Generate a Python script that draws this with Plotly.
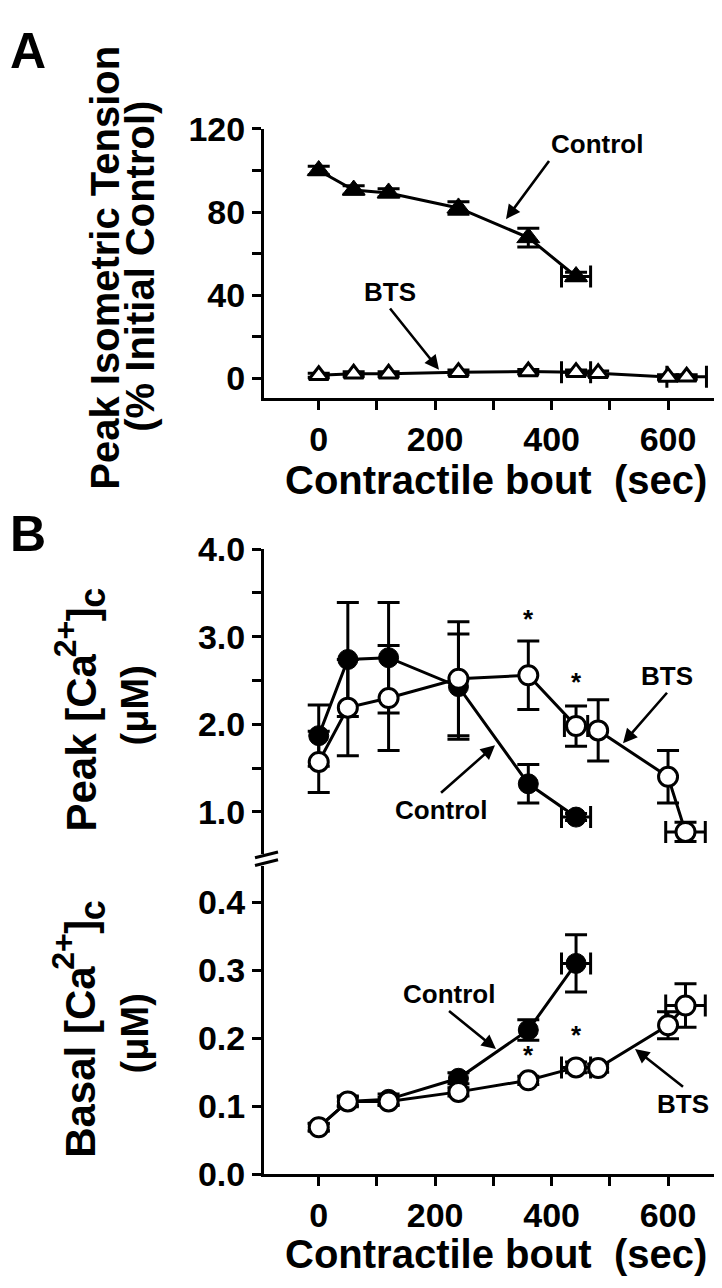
import plotly.graph_objects as go

W, H = 722, 1288
FONT = "Liberation Sans, Arial, sans-serif"

# ---------------- Data ----------------
# Panel A: peak isometric tension (% initial control)
a_ctrl_x = [0, 60, 120, 240, 360, 442]
a_ctrl_y = [100, 90.6, 89.2, 82, 67.7, 49]
a_ctrl_yerr = [2, 2, 2, 3, 4.5, 2]
a_ctrl_xerr = [0, 0, 0, 0, 0, 25]

a_bts_x = [0, 60, 120, 240, 360, 442, 480, 600, 632]
a_bts_y = [1.5, 2.2, 2.2, 3.0, 3.3, 3.0, 2.5, 0.7, 0.8]
a_bts_yerr = [1, 1, 1, 1, 1, 1, 1, 1, 1]
a_bts_xerr = [0, 0, 0, 0, 0, 25, 0, 0, 34]

# Panel B upper: peak [Ca2+]c (uM)
pk_ctrl_x = [0, 50, 120, 240, 360, 442]
pk_ctrl_y = [1.87, 2.74, 2.76, 2.43, 1.32, 0.94]
pk_ctrl_yerr = [0.35, 0.65, 0.63, 0.60, 0.22, 0.04]
pk_ctrl_xerr = [0, 0, 0, 0, 0, 25]

pk_bts_x = [0, 50, 120, 240, 360, 442, 480, 600, 630]
pk_bts_y = [1.57, 2.19, 2.30, 2.52, 2.56, 1.98, 1.93, 1.40, 0.77]
pk_bts_yerr = [0.35, 0.55, 0.60, 0.65, 0.39, 0.23, 0.35, 0.30, 0.11]
pk_bts_xerr = [0, 0, 0, 0, 0, 20, 0, 0, 34]

# Panel B lower: basal [Ca2+]c (uM)
bs_ctrl_x = [0, 50, 120, 240, 360, 442]
bs_ctrl_y = [0.069, 0.107, 0.110, 0.141, 0.212, 0.310]
bs_ctrl_yerr = [0.005, 0.008, 0.008, 0.008, 0.015, 0.042]
bs_ctrl_xerr = [0, 0, 0, 0, 0, 25]

bs_bts_x = [0, 50, 120, 240, 360, 442, 480, 600, 630]
bs_bts_y = [0.069, 0.107, 0.107, 0.121, 0.138, 0.157, 0.156, 0.219, 0.248]
bs_bts_yerr = [0.006, 0.006, 0.006, 0.006, 0.006, 0.008, 0.006, 0.020, 0.032]
bs_bts_xerr = [0, 0, 0, 0, 0, 25, 0, 0, 34]

# significance markers
pk_star_x = [360, 442]
pk_star_y = [3.17, 2.45]
bs_star_x = [360, 442]
bs_star_y = [0.171, 0.200]

x_ticks = [0, 200, 400, 600]
a_y_ticks = [0, 40, 80, 120]
pk_y_ticks = [1.0, 2.0, 3.0, 4.0]
bs_y_ticks = [0.0, 0.1, 0.2, 0.3, 0.4]

# ---------------- Helpers ----------------
def px_x(p):
    return p / W

def px_y(p):
    return 1 - p / H

def add_series(fig, xs, ys, yerr, xerr, xa, ya, symbol, fill, size, lw):
    # x error bars (only for points that have them), drawn beneath markers
    sx = [x for x, e in zip(xs, xerr) if e > 0]
    sy = [y for y, e in zip(ys, xerr) if e > 0]
    se = [e for e in xerr if e > 0]
    if sx:
        fig.add_trace(go.Scatter(
            x=sx, y=sy, mode="markers", xaxis=xa, yaxis=ya,
            marker=dict(size=1, color="rgba(0,0,0,0)"),
            error_x=dict(type="data", array=se, color="black", thickness=3, width=11),
            showlegend=False, hoverinfo="skip"))
    fig.add_trace(go.Scatter(
        x=xs, y=ys, mode="lines+markers", xaxis=xa, yaxis=ya,
        line=dict(color="black", width=3),
        marker=dict(symbol=symbol, size=size, color=fill,
                    line=dict(color="black", width=lw)),
        error_y=dict(type="data", array=yerr, color="black", thickness=3, width=11),
        showlegend=False))

fig = go.Figure()

# Panel A
add_series(fig, a_ctrl_x, a_ctrl_y, a_ctrl_yerr, a_ctrl_xerr, "x", "y",
           "triangle-up", "black", 20, 1)
add_series(fig, a_bts_x, a_bts_y, a_bts_yerr, a_bts_xerr, "x", "y",
           "triangle-up", "white", 17, 3)
# Panel B upper
add_series(fig, pk_ctrl_x, pk_ctrl_y, pk_ctrl_yerr, pk_ctrl_xerr, "x2", "y2",
           "circle", "black", 20, 1)
add_series(fig, pk_bts_x, pk_bts_y, pk_bts_yerr, pk_bts_xerr, "x2", "y2",
           "circle", "white", 19, 3)
# Panel B lower
add_series(fig, bs_ctrl_x, bs_ctrl_y, bs_ctrl_yerr, bs_ctrl_xerr, "x2", "y3",
           "circle", "black", 20, 1)
add_series(fig, bs_bts_x, bs_bts_y, bs_bts_yerr, bs_bts_xerr, "x2", "y3",
           "circle", "white", 19, 3)

# ---------------- Axes ----------------
xdom = [px_x(256), px_x(720)]
tickfont = dict(family=FONT, size=34, color="black", weight="bold")
common_x = dict(range=[-94, 703], domain=xdom, showline=True, linewidth=3,
                linecolor="black", ticks="outside", ticklen=9, tickwidth=3,
                tickcolor="black", tickvals=x_ticks, ticktext=[str(v) for v in x_ticks],
                minor=dict(dtick=100, tick0=0, ticks="outside", ticklen=9,
                           tickwidth=3, tickcolor="black"),
                showgrid=False, zeroline=False, tickfont=tickfont)
common_y = dict(showline=True, linewidth=3, linecolor="black", ticks="outside",
                ticklen=9, tickwidth=3, tickcolor="black", showgrid=False,
                zeroline=False, tickfont=tickfont)

fig.update_layout(
    width=W, height=H, margin=dict(l=0, r=0, t=0, b=0),
    paper_bgcolor="white", plot_bgcolor="white",
    font=dict(family=FONT, color="black"),
    showlegend=False,
    xaxis=dict(anchor="y", **common_x),
    xaxis2=dict(anchor="y3", **common_x),
    yaxis=dict(anchor="x", domain=[px_y(382), px_y(105)], range=[-9.3, 120],
               tickvals=a_y_ticks, ticktext=[str(v) for v in a_y_ticks],
               minor=dict(dtick=20, tick0=0, ticks="outside", ticklen=9,
                          tickwidth=3, tickcolor="black"),
               **common_y),
    yaxis2=dict(anchor="x2", domain=[px_y(852), px_y(538)], range=[0.52, 4.0],
                tickvals=pk_y_ticks, ticktext=[f"{v:.1f}" for v in pk_y_ticks],
                minor=dict(dtick=0.5, tick0=0, ticks="outside", ticklen=9,
                           tickwidth=3, tickcolor="black"),
                **common_y),
    yaxis3=dict(anchor="x2", domain=[px_y(1182), px_y(864)], range=[0, 0.454],
                tickvals=bs_y_ticks, ticktext=[f"{v:.1f}" for v in bs_y_ticks],
                **common_y),
)

# ---------------- Annotations ----------------
ann = []
title_font = dict(family=FONT, size=40, color="black", weight="bold")
lbl_font = dict(family=FONT, size=26, color="black", weight="bold")

def bold(size):
    return dict(family=FONT, size=size, color="black", weight="bold")

def paper_text(text, x, y, font, angle=0):
    ann.append(dict(text=text, x=px_x(x), y=px_y(y), xref="paper", yref="paper",
                    xanchor="center", yanchor="middle", showarrow=False,
                    textangle=angle, font=font))

# panel letters
paper_text("A", 20, 25, bold(50))
paper_text("B", 20, 522, bold(50))

# y titles, panel A (two tight lines)
paper_text("Peak Isometric Tension", 97, 248, title_font, -90)
paper_text("(% Initial Control)", 132, 247, title_font, -90)

# y titles, panel B: rotated text built from pieces (super/subscripts)
EM = {"P": .667, "e": .556, "a": .556, "k": .556, " ": .278, "[": .333,
      "C": .722, "B": .722, "s": .556, "l": .278, "2": .556, "+": .584,
      "]": .333, "c": .556}

def text_len(t, size):
    return sum(EM[ch] for ch in t) * size

def rotated_title(main, py_bottom, x_center):
    main_size, sup_size, sub_size = 42, 32, 36
    base = x_center + 0.3465 * main_size          # baseline (x, rotated)
    pieces = [
        (main, main_size, x_center),
        ("2+", sup_size, base - 21 - 0.3465 * sup_size),
        ("]", main_size, x_center),
        ("c", sub_size, base + 9 - 0.3465 * sub_size),
    ]
    py = py_bottom
    for txt, size, xc in pieces:
        L = text_len(txt, size)
        paper_text(txt, xc, py - L / 2, bold(size), -90)
        py -= L

rotated_title("Peak [Ca", 826, 74)
rotated_title("Basal [Ca", 1162, 73)
paper_text("(μM)", 127, 699, bold(38), -90)
paper_text("(μM)", 127, 1037, bold(38), -90)

# x titles
xt = "Contractile bout\u00a0 (sec)"
paper_text(xt, 488, 467, title_font)
paper_text(xt, 488, 1264, title_font)

def label_arrow(text, tip_x, tip_y, tail_x, tail_y, xr, yr, xanchor, yanchor):
    # label placed at the arrow tail, arrow pointing to the curve
    ann.append(dict(text=text, x=tip_x, y=tip_y, ax=tail_x, ay=tail_y,
                    xref=xr, yref=yr, axref=xr, ayref=yr,
                    xanchor=xanchor, yanchor=yanchor, showarrow=True,
                    arrowhead=2, arrowsize=1.1, arrowwidth=2.6,
                    arrowcolor="black", font=lbl_font))

# Panel A labels
label_arrow("Control", 321.7, 76.6, 395.6, 104.6, "x", "y", "left", "bottom")
label_arrow("BTS", 206.6, 4.2, 122.5, 33.6, "x", "y", "center", "bottom")
# Panel B upper labels
label_arrow("BTS", 522.7, 1.783, 598.2, 2.360, "x2", "y2", "center", "bottom")
label_arrow("Control", 302.8, 1.761, 210.1, 1.218, "x2", "y2", "center", "top")
# Panel B lower labels
label_arrow("Control", 304.5, 0.184, 223.8, 0.240, "x2", "y3", "center", "bottom")
label_arrow("BTS", 543.3, 0.184, 625.7, 0.1285, "x2", "y3", "center", "top")

# asterisks
def star(x, y, xr, yr):
    ann.append(dict(text="*", x=x, y=y, xref=xr, yref=yr, showarrow=False,
                    xanchor="center", yanchor="middle", font=lbl_font, yshift=3))

for sx, sy in zip(pk_star_x, pk_star_y):
    star(sx, sy, "x2", "y2")
for sx, sy in zip(bs_star_x, bs_star_y):
    star(sx, sy, "x2", "y3")

fig.update_layout(annotations=ann)

# axis break marks
shapes = [
    dict(type="line", xref="paper", yref="paper", x0=px_x(247), y0=px_y(856),
         x1=px_x(270), y1=px_y(850), line=dict(color="black", width=3)),
    dict(type="line", xref="paper", yref="paper", x0=px_x(247), y0=px_y(864),
         x1=px_x(270), y1=px_y(858), line=dict(color="black", width=3)),
]
fig.update_layout(shapes=shapes)

fig.write_html("out.html")
